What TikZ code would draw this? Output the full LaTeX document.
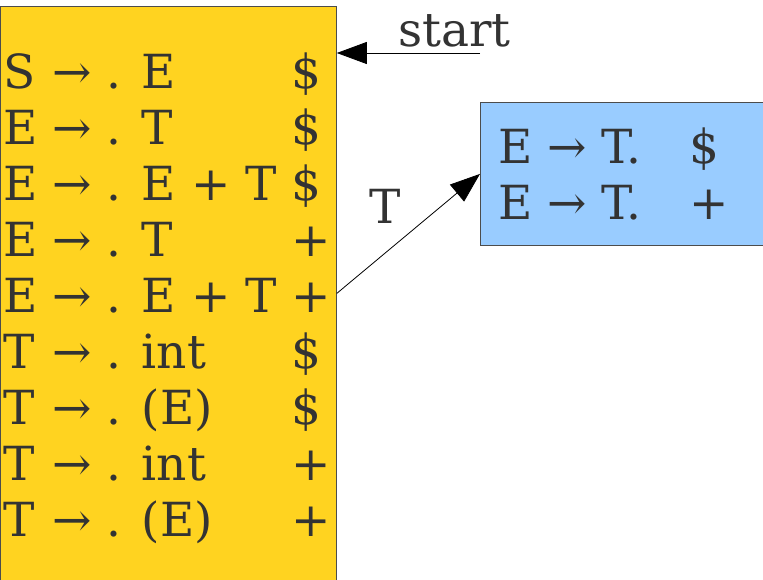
\documentclass[tikz,border=0pt]{standalone}
\usepackage{fontspec}
\setmainfont{DejaVu Serif}
\usetikzlibrary{positioning,arrows.meta}
\definecolor{itemyellow}{HTML}{FFD320}
\definecolor{gotoblue}{HTML}{99CCFF}
\definecolor{itemtext}{HTML}{333333}

\begin{document}
\begin{tikzpicture}[x=1pt, y=-1pt,
  itemset/.style={rectangle, draw=black!70, anchor=north west, inner sep=0pt},
  items/.style={anchor=north west, inner sep=0pt, text=itemtext,
                font=\fontsize{47}{56}\selectfont},
  >={Triangle[length=30pt,width=22pt]}, line width=0.8pt
]
  \useasboundingbox (0,0) rectangle (763,580);

  % item sets
  \node[itemset, fill=itemyellow, minimum width=336pt, minimum height=584pt] (kernel) at (0,6) {};
  \node[items] (kerneltext) at (3,49) {%
    \begin{tabular}{@{}l@{\ }l@{\ }l@{\ }l@{}}
      S & → & . E     & \$\\
      E & → & . T     & \$\\
      E & → & . E + T & \$\\
      E & → & . T     & +\\
      E & → & . E + T & +\\
      T & → & . int   & \$\\
      T & → & . (E)   & \$\\
      T & → & . int   & +\\
      T & → & . (E)   & +\\
    \end{tabular}};

  \node[itemset, fill=gotoblue, minimum width=290pt, minimum height=143pt] (goto) at (480,102) {};
  \node[items] (gototext) at (498,124) {%
    \begin{tabular}{@{}l@{\ }l@{\ }l@{\hspace{48pt}}l@{}}
      E & → & T. & \$\\
      E & → & T. & +\\
    \end{tabular}};

  % transitions
  \node[items, anchor=base west] (startlbl) at (398,47) {start};
  \coordinate (startend) at (480,53);
  \draw[->] (startend) -- (kernel.east |- startend);

  \node[items, anchor=center] (tlbl) at (385,206) {T};
  \draw[->] ([yshift=5pt]kernel.east) -- (goto.west);
\end{tikzpicture}
\end{document}
